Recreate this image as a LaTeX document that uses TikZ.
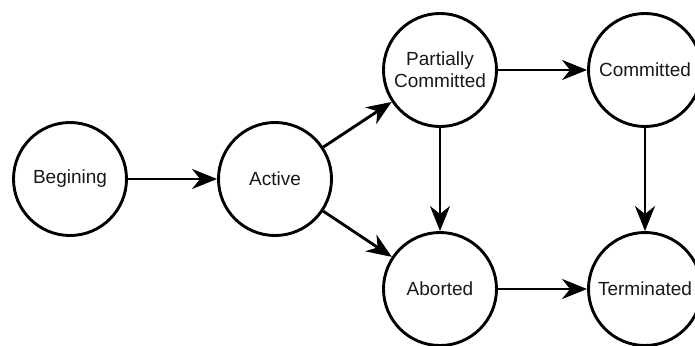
\documentclass[tikz,border=0pt]{standalone}
\usepackage{fontspec}
\setmainfont{Liberation Sans}
\usetikzlibrary{arrows.meta}
\begin{document}
\begin{tikzpicture}[x=1pt,y=-1pt,
  state/.style={circle,draw,line width=2.9pt,minimum size=113pt,inner sep=0pt,
    font=\fontsize{19}{22}\selectfont,align=center,text=black!90},
  conn/.style={line width=2.9pt,-{Stealth[length=25pt,width=20pt,inset=8pt]}}]
\clip (0,0) rectangle (695,345);
\fill[white] (0,0) rectangle (695,345);
\node[state] (beg) at (70,179) {Begining};
\node[state] (act) at (275,179) {Active};
\node[state] (pc) at (440,70) {Partially\\Committed};
\node[state] (com) at (645,70) {Committed};
\node[state] (abo) at (440,289) {Aborted};
\node[state] (ter) at (645,289) {Terminated};
\draw[conn] (beg) -- (act);
\draw[conn] (act) -- (pc);
\draw[conn] (act) -- (abo);
\draw[conn] (pc) -- (com);
\draw[conn] (pc) -- (abo);
\draw[conn] (com) -- (ter);
\draw[conn] (abo) -- (ter);
\end{tikzpicture}
\end{document}
